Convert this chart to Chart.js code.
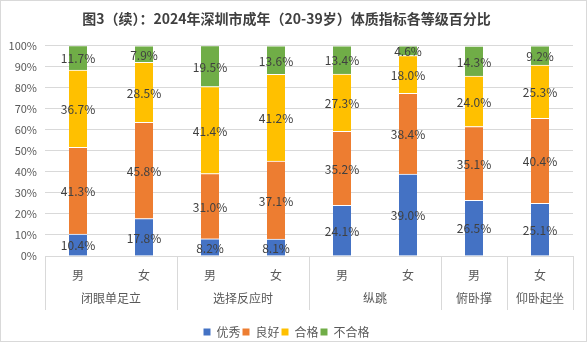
<!DOCTYPE html>
<html><head><meta charset="utf-8">
<script src="https://cdn.jsdelivr.net/npm/chart.js@4/dist/chart.umd.min.js"></script>
<style>html,body{margin:0;padding:0;background:#fff}#wrap{width:587px;height:342px;position:relative}</style>
</head><body><div id="wrap"><canvas id="c" width="587" height="342"></canvas></div>
<script>
const categories = ['男','女','男','女','男','女','男','女'];
const groupLabels = ['闭眼单足立','选择反应时','纵跳','俯卧撑','仰卧起坐'];
const groupSpans = [2,2,2,1,1];
const seriesNames = ['优秀','良好','合格','不合格'];
const excellent = [10.4,17.8,8.2,8.1,24.1,39.0,26.5,25.1];
const good = [41.3,45.8,31.0,37.1,35.2,38.4,35.1,40.4];
const pass = [36.7,28.5,41.4,41.2,27.3,18.0,24.0,25.3];
const fail = [11.7,7.9,19.5,13.6,13.4,4.6,14.3,9.2];
const colors = ['#4472C4','#ED7D31','#FFC000','#70AD47'];
const FONT = '"Microsoft YaHei","Noto Sans CJK SC","Noto Sans",sans-serif';

const seriesValues = [excellent, good, pass, fail];

const dataLabelPlugin = {
  id: 'dataLabels',
  afterDatasetsDraw(chart) {
    const ctx = chart.ctx;
    ctx.save();
    ctx.font = '12px ' + FONT;
    ctx.fillStyle = '#404040';
    ctx.textAlign = 'center';
    ctx.textBaseline = 'middle';
    chart.data.datasets.forEach((ds, di) => {
      const meta = chart.getDatasetMeta(di);
      meta.data.forEach((el, i) => {
        const v = ds.data[i];
        const y = (el.y + el.base) / 2;
        ctx.fillText(v.toFixed(1) + '%', el.x, y + 1);
      });
    });
    ctx.restore();
  }
};

const groupPlugin = {
  id: 'groups',
  afterDraw(chart) {
    const ctx = chart.ctx;
    const xs = chart.scales.x;
    const area = chart.chartArea;
    const n = categories.length;
    const slot = (xs.right - xs.left) / n;
    ctx.save();
    ctx.strokeStyle = '#d9d9d9';
    ctx.lineWidth = 1;
    let idx = 0;
    const bounds = [0];
    groupSpans.forEach(s => { idx += s; bounds.push(idx); });
    bounds.forEach(b => {
      const x = Math.round(xs.getPixelForValue(b) - slot / 2) + 0.5;
      ctx.beginPath();
      ctx.moveTo(x, area.bottom);
      ctx.lineTo(x, area.bottom + 54);
      ctx.stroke();
    });
    ctx.font = '12px ' + FONT;
    ctx.fillStyle = '#595959';
    ctx.textAlign = 'center';
    ctx.textBaseline = 'middle';
    let start = 0;
    groupLabels.forEach((g, gi) => {
      const end = start + groupSpans[gi] - 1;
      const cx = (xs.getPixelForValue(start) + xs.getPixelForValue(end)) / 2;
      ctx.fillText(g, cx, area.bottom + 42);
      start += groupSpans[gi];
    });
    ctx.strokeStyle = '#d9d9d9';
    ctx.strokeRect(0.5, 0.5, chart.width - 1, chart.height - 1);
    ctx.restore();
  }
};

new Chart(document.getElementById('c'), {
  type: 'bar',
  data: {
    labels: categories,
    datasets: seriesValues.map((vals, i) => ({
      label: seriesNames[i],
      data: vals,
      backgroundColor: colors[i],
      borderColor: '#ffffff',
      borderWidth: {top: 1, bottom: 0, left: 0, right: 0},
      borderSkipped: false,
      barThickness: 18
    }))
  },
  options: {
    responsive: false,
    animation: false,
    devicePixelRatio: 1,
    layout: {padding: {left: 0, right: 14, top: 0, bottom: -6}},
    plugins: {
      title: {
        display: true,
        text: '图3（续）：2024年深圳市成年（20-39岁）体质指标各等级百分比',
        color: '#404040',
        font: {family: FONT, size: 14, weight: 'bold', lineHeight: 1.2},
        padding: {top: 10, bottom: 19}
      },
      legend: {
        position: 'bottom',
        labels: {
          color: '#595959',
          font: {family: FONT, size: 12},
          boxWidth: 7,
          boxHeight: 7,
          padding: 2,
          generateLabels(chart) {
            return chart.data.datasets.map((ds, i) => ({
              text: ds.label,
              fillStyle: colors[i],
              strokeStyle: colors[i],
              lineWidth: 0,
              hidden: false,
              datasetIndex: i,
              fontColor: '#595959'
            }));
          }
        }
      },
      tooltip: {enabled: false}
    },
    scales: {
      x: {
        stacked: true,
        grid: {display: false, drawTicks: false},
        border: {color: '#d9d9d9'},
        ticks: {color: '#595959', font: {family: FONT, size: 12}, padding: 12, maxRotation: 0},
        afterFit(scale) { scale.height = 68; }
      },
      y: {
        stacked: true,
        min: 0,
        max: 100,
        grid: {color: '#d9d9d9', drawTicks: false},
        border: {display: false},
        ticks: {
          stepSize: 10,
          color: '#595959',
          font: {family: FONT, size: 11},
          padding: 8,
          callback: v => v + '%'
        },
        afterFit(scale) { scale.width = 45; }
      }
    }
  },
  plugins: [dataLabelPlugin, groupPlugin]
});
</script>
</body></html>
